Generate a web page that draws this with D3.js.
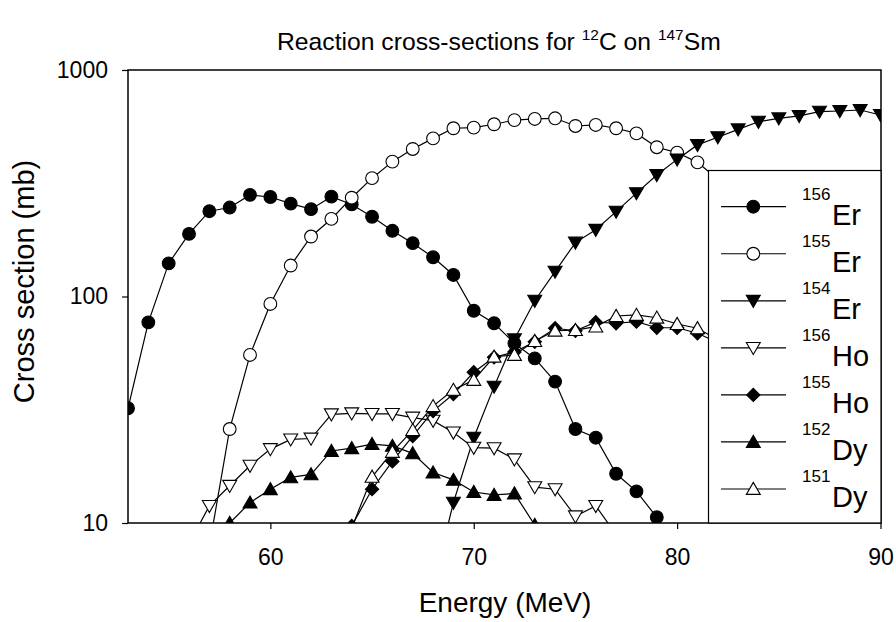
<!DOCTYPE html>
<html>
<head>
<meta charset="utf-8">
<script src="https://cdn.jsdelivr.net/npm/d3@7"></script>
<style>
  html, body { margin: 0; padding: 0; background: #fff; }
  svg { display: block; font-family: "Liberation Sans", Arial, sans-serif; }
</style>
</head>
<body>
<svg id="chart" width="896" height="622"></svg>
<script>
// ---- data (energy in MeV, cross section in mb; null = not shown) ----
const energies = [53,54,55,56,57,58,59,60,61,62,63,64,65,66,67,68,69,70,71,72,73,74,75,76,77,78,79,80,81,82,83,84,85,86,87,88,89,90];

const er156 = [32.1,76.9,140,189,238,247,281,275,257,243,276,255,225,195,172,149,124.5,86.5,76.2,62.1,53.3,42.1,26.0,23.8,16.5,13.8,10.6,null,null,null,null,null,null,null,null,null,null,null];
const er155 = [null,null,null,null,7.9,26.0,55.2,92.7,137,184,220,273,333,394,448,499,553,557,576,601,608,612,566,572,553,525,456,432,391,null,null,null,null,null,null,null,null,82.8];
const er154 = [null,null,null,null,null,null,null,null,null,null,null,null,null,null,null,5.3,12.3,23.8,40,64.7,95.8,128.8,173,197,237,286,344,403,467,505,547,591,612,627,655,659,666,633];
const ho156 = [null,null,null,8.1,11.9,14.6,17.9,21.2,23.4,23.6,30.2,30.5,30.3,30.3,29.2,28.3,25.1,21.5,21.4,19.1,14.4,14.1,10.7,11.9,8.9,null,null,null,null,null,null,null,null,null,null,null,null,null];
const ho155 = [null,null,null,null,null,null,null,null,null,null,null,9.7,14.1,18.7,24.2,31.2,37.1,46.3,53.9,56.9,63.1,72.4,70.6,77,76.2,77.4,72.8,72.8,68.8,null,null,null,null,null,null,null,null,29.5];
const dy152 = [null,null,null,null,null,10.0,12.3,14.1,15.9,16.4,20.8,21.4,22.3,21.9,20.3,16.7,15.5,13.7,13.3,13.5,9.8,null,null,null,null,null,null,null,null,null,null,null,null,null,null,null,null,null];
const dy151 = [null,null,null,null,null,null,null,null,null,null,null,9.5,16.0,20.6,25.7,32.8,38.7,42.8,54.2,55.2,63.6,70.6,71.1,73.6,82,82.9,80.6,75.6,72.4,null,null,null,null,null,null,null,null,25.3];

const seriesMass = ["156","155","154","156","155","152","151"];
const seriesElem = ["Er","Er","Er","Ho","Ho","Dy","Dy"];
const seriesValues = [er156, er155, er154, ho156, ho155, dy152, dy151];
const seriesMarker = ["circle","circle","triDown","triDown","diamond","triUp","triUp"];
const seriesFilled = [true,false,true,false,true,true,false];

const xTicks = [60,70,80,90];
const yTicks = [10,100,1000];

const titleParts = [["Reaction cross-sections for ",false],["12",true],["C on ",false],["147",true],["Sm",false]];
const xTitle = "Energy (MeV)";
const yTitle = "Cross section (mb)";

// ---- layout ----
const L = 128, R = 881, T = 70, B = 523;
const svg = d3.select("#chart");

const x = d3.scaleLinear().domain([53, 90]).range([L, 880.5]);
const y = d3.scaleLog().domain([10, 1000]).range([B, T]);

svg.append("defs").append("clipPath").attr("id","plotclip")
  .append("rect").attr("x", L).attr("y", T).attr("width", R - L).attr("height", B - T);

function markerPath(kind) {
  if (kind === "circle") return d3.symbol().type(d3.symbolCircle).size(128)();
  if (kind === "diamond") return d3.symbol().type(d3.symbolSquare).size(88)();
  return d3.symbol().type(d3.symbolTriangle).size(84)();
}
function markerRot(kind) {
  if (kind === "diamond") return 45;
  if (kind === "triDown") return 180;
  return 0;
}
function markerDy(kind) {
  if (kind === "triUp") return 1.4;
  if (kind === "triDown") return -1.4;
  return 0;
}

const plot = svg.append("g").attr("clip-path", "url(#plotclip)");
const line = d3.line().x(d => x(d[0])).y(d => y(d[1]));

seriesValues.forEach((vals, i) => {
  const pts = energies.map((e, k) => [e, vals[k]]).filter(d => d[1] != null);
  plot.append("path").datum(pts)
    .attr("d", line).attr("fill", "none").attr("stroke", "#000").attr("stroke-width", 1.2);
  const kind = seriesMarker[i];
  plot.selectAll(null).data(pts).enter().append("path")
    .attr("d", markerPath(kind))
    .attr("transform", d => `translate(${x(d[0])},${y(d[1]) + markerDy(kind)}) rotate(${markerRot(kind)})`)
    .attr("fill", seriesFilled[i] ? "#000" : "#fff")
    .attr("stroke", "#000").attr("stroke-width", 1.1);
});

// ---- axes ----
const xAxis = svg.append("g").attr("transform", `translate(0,${B})`)
  .call(d3.axisBottom(x).tickValues(xTicks).tickSize(6).tickPadding(20).tickFormat(d3.format("d")));
xAxis.select(".domain").remove();
xAxis.selectAll("line").attr("stroke", "#000").attr("stroke-width", 1.2);
xAxis.selectAll("text").attr("font-size", 23).attr("fill", "#000")
  .attr("font-family", "Liberation Sans, Arial, sans-serif");

const yAxis = svg.append("g").attr("transform", `translate(${L},0)`)
  .call(d3.axisLeft(y).tickValues(yTicks).tickSize(6).tickPadding(14).tickFormat(d3.format("d")));
yAxis.select(".domain").remove();
yAxis.selectAll("line").attr("stroke", "#000").attr("stroke-width", 1.2);
yAxis.selectAll("text").attr("font-size", 23).attr("fill", "#000")
  .attr("font-family", "Liberation Sans, Arial, sans-serif");

// frame
svg.append("rect").attr("x", L).attr("y", T).attr("width", R - L).attr("height", B - T)
  .attr("fill", "none").attr("stroke", "#000").attr("stroke-width", 1.5);

// ---- legend ----
const lg = svg.append("g");
lg.append("rect").attr("x", 708.5).attr("y", 170.5).attr("width", R - 708.5).attr("height", B - 170.5)
  .attr("fill", "#fff").attr("stroke", "#000").attr("stroke-width", 1.2);
const legY0 = 206.7, legDY = 47.05;
seriesMass.forEach((m, i) => {
  const ly = legY0 + i * legDY;
  lg.append("line").attr("x1", 721).attr("x2", 786).attr("y1", ly).attr("y2", ly)
    .attr("stroke", "#000").attr("stroke-width", 1.2);
  const kind = seriesMarker[i];
  lg.append("path").attr("d", markerPath(kind))
    .attr("transform", `translate(753.3,${ly + markerDy(kind)}) rotate(${markerRot(kind)})`)
    .attr("fill", seriesFilled[i] ? "#000" : "#fff").attr("stroke", "#000").attr("stroke-width", 1.1);
  lg.append("text").attr("x", 802).attr("y", ly - 7).attr("font-size", 17).text(m);
  lg.append("text").attr("x", 832).attr("y", ly + 18).attr("font-size", 29).text(seriesElem[i]);
});

// ---- titles ----
const title = svg.append("text").attr("x", 0).attr("y", 0).attr("font-size", 24)
  .attr("font-family", "'Liberation Sans Narrow', 'Liberation Sans', Arial, sans-serif");
titleParts.forEach(([t, sup], k) => {
  const ts = title.append("tspan").text(t);
  if (sup) ts.attr("font-size", 15).attr("dy", -10);
  else ts.attr("dy", (k > 0 && titleParts[k-1][1]) ? 10 : 0);
});
const tw = title.node().getComputedTextLength();
const targetW = 444;
title.attr("transform", `translate(277,50) scale(${targetW / tw},1)`);

svg.append("text").attr("x", 505).attr("y", 612).attr("text-anchor", "middle")
  .attr("font-size", 28).text(xTitle);
svg.append("text").attr("transform", "translate(33.5,281.5) rotate(-90)")
  .attr("text-anchor", "middle").attr("font-size", 29).text(yTitle);
</script>
</body>
</html>
